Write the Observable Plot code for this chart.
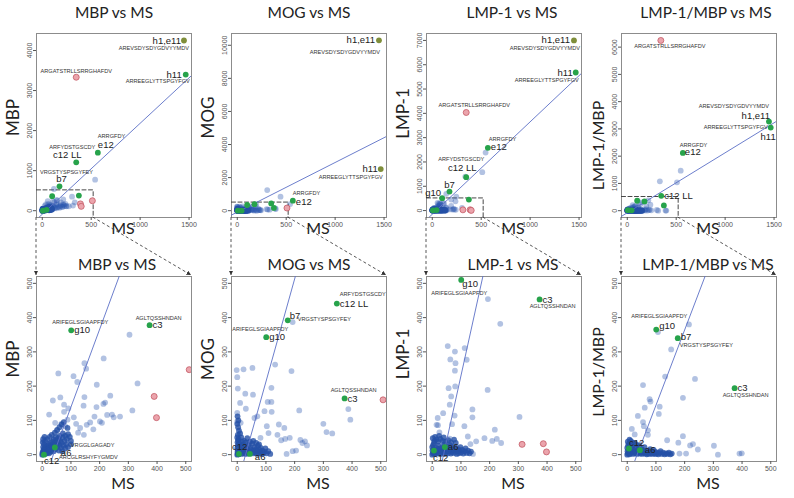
<!DOCTYPE html>
<html><head><meta charset="utf-8">
<script src="https://cdn.jsdelivr.net/npm/d3@7"></script>
<script src="https://cdn.jsdelivr.net/npm/@observablehq/plot@0.6"></script>
<style>
body{margin:0;background:#fff;}
#wrap{position:relative;width:794px;height:498px;overflow:hidden;background:#fff;}
#wrap svg{position:absolute;overflow:visible;background:transparent;}
</style></head><body><div id="wrap"></div>
<script>
// ---------------- DATA ----------------
const panelTitles = ["MBP vs MS", "MOG vs MS", "LMP-1 vs MS", "LMP-1/MBP vs MS"];
const yLabels = ["MBP", "MOG", "LMP-1", "LMP-1/MBP"];
const xLabel = "MS";

const topXTicks = [0, 500, 1000, 1500];
const bottomTicks = [0, 100, 200, 300, 400, 500];
const topYTicksMBP = [0, 1000, 2000, 3000, 4000];
const topYTicksMOG = [0, 2000, 4000, 6000, 8000, 10000];
const topYTicksLMP = [0, 1000, 2000, 3000, 4000, 5000, 6000, 7000];
const topYTicksRatio = [0, 1000, 2000, 3000, 4000, 5000, 6000];

// highlighted (green) clones
const greenNames = ["h1,e11", "h11", "e12", "c12 LL", "b7", "g10", "c3", "a6", "c12"];
const greenSeqs = ["AREVSDYSDYGDVYYMDV", "ARREEGLYTTSPGYFGV", "ARRGFDY", "ARFYDSTGSCDY", "VRGSTYSPSGYFEY", "ARIFEGLSGIAAPFDY", "AGLTQSSHNDAN", "VRGGLGAGADY", "ARCGLRSHYFYGMDV"];
const greenMS = [1448, 1466, 568, 347, 176, 101, 374, 44, 6];
const greenMBP = [4250, 3400, 1450, 1208, 608, 363, 378, 21, 0];
const greenMOG = [10300, 2515, 604, 441, 392, 343, 164, 2, 2];
const greenLMP = [7000, 5680, 2580, 1372, 782, 510, 453, 22, 12];
const greenRatio = [3269, 3049, 2118, 545, 340, 365, 194, 13, 18];

// red (excluded) clones: [MS, value]
const redSeq = "ARGATSTRLLSRRGHAFDV";
const redMBP = [[347, 3333], [390, 170], [398, 108], [512, 248]];
const redMOG = [[508, 160]];
const redLMP = [[347, 4035], [313, 30], [387, 32], [398, 8]];
const redRatio = [[343, 6245]];

// regression lines
const lineSlopes = [2.27, 3.0, 3.8, 2.2];
const lineIntercepts = [-88, -87, -150, -76];

// other clones: [MS, value]
const scatterMBP = [[304,350],[332,208],[314,129],[214,281],[190,204],[237,172],[147,267],[153,251],[109,229],[122,212],[56,237],[147,168],[144,143],[37,158],[63,167],[76,146],[24,117],[91,135],[189,139],[219,152],[213,148],[249,109],[226,116],[208,93],[182,111],[118,90],[132,78],[155,87],[167,94],[110,109],[76,125],[88,102],[80,83],[66,90],[51,70],[45,93],[125,64],[145,58],[178,74],[201,97],[243,117],[271,111]];
const extraMBP = [[540,775],[119,542]];
const clusterMBP = [[0,0],[2,1],[4,3],[1,6],[3,10],[6,4],[8,8],[5,14],[10,2],[12,6],[9,12],[14,10],[7,18],[11,16],[16,4],[18,12],[15,20],[20,8],[22,16],[13,24],[19,26],[24,4],[26,12],[25,22],[28,18],[22,30],[30,8],[32,26],[34,14],[29,34],[36,20],[38,30],[35,38],[40,10],[42,24],[44,36],[40,44],[46,16],[48,30],[50,42],[47,50],[52,22],[55,34],[56,48],[58,12],[60,28],[62,40],[61,55],[65,20],[67,35],[70,50],[72,62],[74,26],[78,40],[80,55],[84,30],[86,46],[90,60],[3,22],[6,30],[2,36],[10,40],[18,45],[26,52],[33,58],[44,64],[52,72],[60,80],[68,88],[75,95],[88,78],[96,52],[100,40],[70,10],[80,18],[90,22],[100,30],[3,45],[8,52]];

const scatterMOG = [[193,387],[132,263],[189,244],[22,249],[-2,247],[0,226],[2,193],[53,253],[119,195],[28,178],[55,175],[10,151],[106,154],[119,154],[30,134],[120,125],[216,129],[0,122],[0,97],[12,93],[95,127],[70,112],[60,107],[103,83],[145,88],[164,78],[140,58],[183,49],[109,63],[81,49],[153,42],[167,46],[220,43],[236,39],[243,27],[227,34],[205,12],[193,10],[172,2],[300,90],[311,66],[331,62],[387,133],[394,102]];
const extraMOG = [[306,1247],[442,845],[540,400]];
const clusterMOG = [[0,0],[2,2],[5,1],[8,4],[1,8],[3,12],[0,18],[2,24],[4,30],[1,36],[3,42],[0,50],[2,58],[5,46],[6,20],[10,6],[12,14],[15,2],[18,10],[20,18],[22,4],[25,12],[28,24],[30,2],[32,8],[35,16],[38,4],[40,28],[42,10],[45,20],[48,6],[50,14],[52,32],[55,4],[58,12],[60,22],[62,6],[65,16],[68,2],[70,10],[72,26],[75,4],[78,14],[80,8],[82,20],[85,2],[88,12],[90,4],[95,8],[98,18],[102,4],[108,10],[115,2],[8,32],[12,26],[16,38],[20,30],[24,40],[14,50],[10,62],[6,70],[3,80],[0,90],[4,100],[1,112],[30,36],[44,38],[35,48],[56,40],[66,34],[76,30]];

const scatterLMP = [[194,454],[237,382],[54,317],[63,278],[79,301],[113,311],[120,277],[81,267],[79,245],[193,189],[57,194],[66,170],[80,199],[61,146],[38,121],[19,107],[15,87],[20,86],[25,65],[78,114],[69,89],[61,47],[112,83],[124,53],[140,132],[140,109],[153,39],[182,48],[209,40],[218,73],[225,46],[240,34],[304,110],[133,31],[142,2]];
const extraLMP = [[545,2388],[511,1578],[338,1400],[245,576],[143,690]];
const clusterLMP = [[0,0],[2,4],[5,8],[8,2],[1,12],[4,16],[0,22],[3,28],[6,34],[10,6],[12,12],[14,20],[16,3],[18,9],[20,16],[22,26],[24,4],[26,11],[28,18],[30,2],[32,8],[34,14],[36,22],[38,5],[40,12],[42,30],[45,2],[48,9],[50,16],[52,24],[55,4],[58,10],[60,18],[62,28],[65,3],[68,8],[70,14],[72,22],[75,5],[78,12],[80,20],[82,34],[85,2],[88,10],[90,16],[92,4],[95,12],[98,22],[100,6],[104,14],[108,3],[112,10],[116,18],[120,5],[125,12],[130,4],[135,9],[8,40],[14,44],[20,38],[28,46],[36,40],[46,38],[56,42],[66,36],[76,44],[2,48],[10,52],[24,55],[40,50]];

const scatterRatio = [[107,358],[215,380],[153,307],[132,228],[236,221],[194,166],[55,203],[78,162],[81,155],[113,140],[110,119],[61,137],[37,113],[55,95],[58,83],[16,75],[72,58],[26,59],[72,71],[194,54],[139,42],[178,35],[219,27],[229,31],[246,15],[302,26],[316,0],[391,3],[399,4],[182,3],[205,3]];
const extraRatio = [[546,1469],[333,1078],[508,1041]];
const clusterRatio = [[0,0],[2,3],[5,6],[8,1],[1,10],[4,14],[0,20],[3,26],[6,32],[2,38],[8,44],[12,4],[14,10],[16,18],[18,26],[20,2],[22,8],[24,14],[26,34],[28,4],[30,10],[32,20],[35,2],[38,7],[40,14],[42,28],[45,3],[48,8],[50,16],[52,2],[55,6],[58,12],[60,22],[62,3],[65,8],[68,1],[70,5],[72,12],[75,2],[78,7],[80,16],[82,3],[85,9],[88,2],[90,6],[92,14],[95,3],[98,8],[100,2],[104,6],[108,1],[112,5],[116,10],[120,2],[125,6],[130,1],[135,4],[140,2],[145,6],[150,1],[155,3],[12,40],[18,36],[10,30],[30,30],[40,24]];

// ---------------- LAYOUT / STYLE ----------------
const topXDomain = [-59, 1525];
const zoomDomain = [-20, 520];
const FONT_T = "Lato, 'Open Sans', sans-serif";
const FONT_S = "'Liberation Sans', Arial, sans-serif";
const FONT_N = "'Liberation Sans Narrow', 'Liberation Sans', Arial, sans-serif";
const BLUE = "#2a55b0", CLUSTER = "#2450a6", GREEN = "#27a34b", OLIVE = "#7f8e3a";

const greenVals = [greenMBP, greenMOG, greenLMP, greenRatio];
const scatters = [[...scatterMBP, ...extraMBP], [...scatterMOG, ...extraMOG], [...scatterLMP, ...extraLMP], [...scatterRatio, ...extraRatio]];
const clusters = [clusterMBP, clusterMOG, clusterLMP, clusterRatio];
const reds = [redMBP, redMOG, redLMP, redRatio];

const topCfg = [
  {fl: 36, yDomain: [-170, 4425], yTicks: topYTicksMBP, titleDx: 0, ylDy: -8, olive: ["h1,e11"],
   labels: {"h1,e11": [[-3,0,"end"],[5,8,"end"]], "h11": [[-4,0,"end"],[4,7,"end"]], "e12": [[0,-8,"start"],[0,-16,"start"]], "c12 LL": [[-9,-7,"middle"],[-4,-15,"middle"]], "b7": [[2,-7,"middle"],[7,-14,"middle"]]},
   redLabel: [0,-6,"middle"]},
  {fl: 231, yDomain: [-412, 10712], yTicks: topYTicksMOG, titleDx: 0, ylDy: -8, olive: ["h1,e11","h11"],
   labels: {"h1,e11": [[-4,0,"end"],[1,12,"end"]], "h11": [[-3,0,"end"],[2,8,"end"]], "e12": [[3,1,"start"],[0,-7,"start"]]},
   redLabel: null},
  {fl: 426, yDomain: [-285, 7285], yTicks: topYTicksLMP, titleDx: 8, ylDy: -12, olive: ["h1,e11"],
   labels: {"h1,e11": [[-4,0,"end"],[6,8,"end"]], "h11": [[-3,0,"end"],[3,8,"end"]], "e12": [[3,-1,"start"],[1,-9,"start"]], "c12 LL": [[-4,-9,"middle"],[-5,-18,"middle"]], "b7": [[0,-7,"middle"],null], "g10": [[-1,-5,"end"],null]},
   redLabel: [8,-7,"middle"]},
  {fl: 621, yDomain: [-250, 6500], yTicks: topYTicksRatio, titleDx: 7, ylDy: 20, olive: [],
   labels: {"h1,e11": [[1,-6,"end"],[0,-15,"end"]], "h11": [[5,9,"end"],[-3,0,"end"]], "e12": [[2,-1,"start"],[-3,-8,"start"]], "c12 LL": [[3,0,"start"],null]},
   redLabel: [9,6,"middle"]}
];
const botCfg = [
  {fl: 36, titleDx: 3, ylDy: -10,
   labels: {"g10": [[3,0,"start"],[9,-8,"middle"]], "c3": [[3,0,"start"],[9,-7,"middle"]], "a6": [[6,5,"start"],[16,-2,"start"]], "c12": [[0,6,"start"],[15,3,"start"]]}},
  {fl: 231, titleDx: 0, ylDy: -10,
   labels: {"c12 LL": [[3,0,"start"],[3,-9,"start"]], "b7": [[2,-4,"start"],[10,-1,"start"]], "g10": [[3,0,"start"],[-6,-8,"middle"]], "c3": [[3,0,"start"],[9,-8,"middle"]], "c12": [[-7,-7,"start"],null], "a6": [[5,3,"start"],null]}},
  {fl: 426, titleDx: 9, ylDy: -15,
   labels: {"g10": [[1,4,"start"],[-2,13,"middle"]], "c3": [[3,0,"start"],[13,7,"middle"]], "a6": [[3,0,"start"],null], "c12": [[-1,7,"start"],null]}},
  {fl: 621, titleDx: 9, ylDy: 3,
   labels: {"g10": [[3,-4,"start"],[3,-13,"middle"]], "b7": [[3,-1,"start"],[2,7,"start"]], "c3": [[3,0,"start"],[11,7,"middle"]], "c12": [[0,-6,"start"],null], "a6": [[5,0,"start"],null]}}
];

const wrap = document.getElementById("wrap");
const ML = 40, MR = 14, FW = 155;

function makePanel(i, isTop) {
  const cfg = isTop ? topCfg[i] : botCfg[i];
  const ft = isTop ? 33 : 276, fh = isTop ? 184 : 185;
  const mt = isTop ? 33 : 30, mb = isTop ? 35 : 37;
  const xDomain = isTop ? topXDomain : zoomDomain;
  const yDomain = isTop ? cfg.yDomain : zoomDomain;
  const xTicks = isTop ? topXTicks : bottomTicks;
  const yTicks = isTop ? cfg.yTicks : bottomTicks;
  const gv = greenVals[i];
  const greens = greenNames.map((n, k) => ({name: n, seq: greenSeqs[k], x: greenMS[k], y: gv[k],
    olive: isTop && topCfg[i].olive.includes(n)}));
  const m = [];
  m.push(Plot.frame({stroke: "#8c8c8c", strokeWidth: 1}));
  m.push(Plot.axisX({ticks: xTicks, tickSize: 3, tickPadding: 2, fontSize: 7, label: null, color: "#555",
    fontFamily: FONT_S, tickFormat: d => String(d)}));
  m.push(Plot.axisY({ticks: yTicks, tickSize: 3, tickFormat: () => "", label: null, color: "#555"}));
  m.push(Plot.text(yTicks, {y: d => d, text: d => String(d), frameAnchor: "left", dx: -5, rotate: -90,
    textAnchor: "middle", lineAnchor: "bottom", fontSize: 7, fill: "#555", fontFamily: FONT_S}));
  if (isTop) {
    const zm = zoomDomain[1];
    m.push(Plot.line([[xDomain[0], zm], [zm, zm], [zm, yDomain[0]]], {x: d => d[0], y: d => d[1],
      stroke: "#333", strokeWidth: 0.9, strokeDasharray: "4,2.5"}));
  }
  m.push(Plot.dot(scatters[i], {x: d => d[0], y: d => d[1], r: 2.9, fill: BLUE, fillOpacity: 0.36, clip: true}));
  m.push(Plot.dot(clusters[i], {x: d => d[0], y: d => d[1], r: 2.9, fill: CLUSTER, fillOpacity: 0.8, clip: true}));
  m.push(Plot.dot(reds[i], {x: d => d[0], y: d => d[1], r: 3, fill: "#eba4ac", stroke: "#c45a66", strokeWidth: 0.8, clip: true}));
  const a = lineIntercepts[i], b = lineSlopes[i];
  m.push(Plot.line(xDomain.map(x => ({x, y: a + b * x})), {x: "x", y: "y", stroke: "#5b6fc6", strokeWidth: 0.9, clip: true}));
  m.push(Plot.dot(greens, {x: "x", y: "y", r: 2.9, fill: d => d.olive ? OLIVE : GREEN, clip: true}));
  for (const [name, spec] of Object.entries(cfg.labels)) {
    const g = greens.find(d => d.name === name);
    const [ns, ss] = spec;
    if (ns) m.push(Plot.text([g], {x: "x", y: "y", text: "name", dx: ns[0], dy: ns[1], textAnchor: ns[2],
      fontSize: 9.5, fill: "#222", fontFamily: FONT_S}));
    if (ss) m.push(Plot.text([g], {x: "x", y: "y", text: "seq", dx: ss[0], dy: ss[1], textAnchor: ss[2],
      fontSize: 5.6, fill: "#333", fontFamily: FONT_N}));
  }
  if (isTop && cfg.redLabel) {
    const rl = cfg.redLabel;
    m.push(Plot.text([reds[i][0]], {x: d => d[0], y: d => d[1], text: () => redSeq, dx: rl[0], dy: rl[1],
      textAnchor: rl[2], fontSize: 5.6, fill: "#333", fontFamily: FONT_N}));
  }
  m.push(Plot.text([panelTitles[i]], {text: d => d, frameAnchor: "top", dx: cfg.titleDx, dy: isTop ? -20 : -11,
    lineAnchor: "middle", fontSize: 15.5, fill: "#222", fontFamily: FONT_T}));
  m.push(Plot.text([yLabels[i]], {text: d => d, frameAnchor: "left", dx: -23, dy: cfg.ylDy, rotate: -90,
    lineAnchor: "middle", textAnchor: "middle", fontSize: i === 3 ? 16 : 17, fill: "#222", fontFamily: FONT_T}));
  m.push(Plot.text([xLabel], {text: d => d, frameAnchor: "bottom", dx: 9, dy: isTop ? 11 : 22,
    lineAnchor: "middle", fontSize: 16, fill: "#222", fontFamily: FONT_T}));

  const plot = Plot.plot({
    width: ML + FW + MR, height: mt + fh + mb,
    marginLeft: ML, marginRight: MR, marginTop: mt, marginBottom: mb,
    x: {domain: xDomain}, y: {domain: yDomain},
    style: {background: "transparent", overflow: "visible", fontFamily: FONT_S},
    marks: m
  });
  const left = cfg.fl - ML, top = ft - mt;
  plot.style.left = left + "px";
  plot.style.top = top + "px";
  wrap.appendChild(plot);
  return {plot, left, top, xDomain, yDomain};
}

const tops = [0, 1, 2, 3].map(i => makePanel(i, true));
const bots = [0, 1, 2, 3].map(i => makePanel(i, false));

// connectors between overview and zoomed panel, placed with the plots' own scales
const ov = d3.create("svg").attr("width", 794).attr("height", 498).style("left", "0px").style("top", "0px")
  .style("pointer-events", "none");
ov.append("defs").append("marker").attr("id", "arr").attr("viewBox", "0 0 10 10")
  .attr("refX", 10).attr("refY", 5).attr("markerWidth", 5).attr("markerHeight", 5).attr("orient", "auto")
  .append("path").attr("d", "M0,0L10,5L0,10z").attr("fill", "#333");
for (let i = 0; i < 4; i++) {
  const T = tops[i], B = bots[i];
  const xt = T.plot.scale("x"), yt = T.plot.scale("y");
  const xb = B.plot.scale("x"), yb = B.plot.scale("y");
  const yStart = T.top + yt.apply(T.yDomain[0]);
  const yEnd = B.top + yb.apply(B.yDomain[1]);
  const segs = [
    [T.left + xt.apply(T.xDomain[0]), yStart, B.left + xb.apply(B.xDomain[0]), yEnd - 1],
    [T.left + xt.apply(zoomDomain[1]), yStart, B.left + xb.apply(B.xDomain[1]), yEnd - 1]
  ];
  for (const [x1, y1, x2, y2] of segs) {
    ov.append("line").attr("x1", x1).attr("y1", y1).attr("x2", x2).attr("y2", y2)
      .attr("stroke", "#444").attr("stroke-width", 0.9).attr("stroke-dasharray", "3,2.5")
      .attr("marker-end", "url(#arr)");
  }
}
wrap.appendChild(ov.node());
</script>
</body></html>
